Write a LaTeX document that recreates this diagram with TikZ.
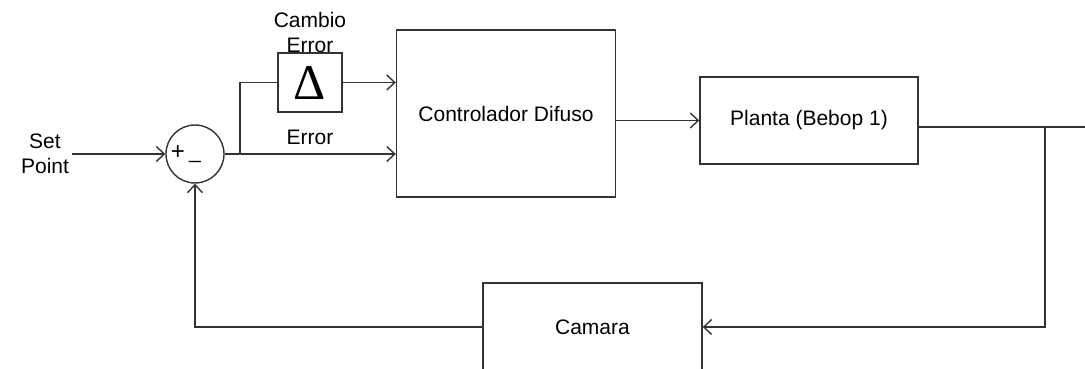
\documentclass[tikz,border=0pt]{standalone}
\usepackage{fontspec}
\setmainfont{Liberation Sans}
\newfontfamily\deltafont{Liberation Serif}
\usepackage{xcolor}
\definecolor{ln}{HTML}{333333}
\usetikzlibrary{arrows.meta,positioning,calc}
\tikzset{
  >={Straight Barb[length=8pt,width=15pt]},
  blk/.style={draw=ln,line width=1.4pt,inner sep=0pt,align=center,fill=white},
  sumc/.style={circle,draw=ln,line width=1.4pt,minimum size=58pt,inner sep=0pt},
  lab/.style={align=center},
  wire/.style={draw=ln,line width=1.4pt},
  arr/.style={->,draw=ln,line width=1.4pt},
}

\begin{document}
\begin{tikzpicture}[x=1pt,y=-1pt,every node/.style={font=\fontsize{21}{25}\selectfont}]
\useasboundingbox (0,0) rectangle (1085,369);
% Input and summing junction
\node[lab] (setp) at (45,154) {Set\\Point};
\node[sumc] (sum) at (195,154) {};
\node[font=\fontsize{24}{24}\selectfont] (plus) at (178,153) {+};
\node (minus) at (195,161) {\_};
% Blocks
\node[blk,minimum width=64,minimum height=59,font=\deltafont\fontsize{50}{50}\selectfont] (delta) at (310,82.5) {Δ};
\node[lab] (cambio) at (310,32) {Cambio\\Error};
\node[lab] (errlab) at (310,137) {Error};
\node[blk,minimum width=219,minimum height=167] (ctrl) at (506,113.5) {Controlador Difuso};
\node[blk,minimum width=218,minimum height=87] (planta) at (809,120.5) {Planta (Bebop 1)};
\node[blk,minimum width=219,minimum height=88] (camara) at (592.5,327) {Camara};
% Helper points
\coordinate (br) at (240,154);
\coordinate (tap) at (1045,127);
\coordinate (out) at (1090,127);
% Forward path
\draw[arr] (setp.east |- sum.west) -- (sum.west);
\draw[arr] (sum.east) -- (sum.east -| ctrl.west);
\draw[wire] (br) |- (delta.west);
\draw[arr] (delta.east) -- (delta.east -| ctrl.west);
\draw[arr] (ctrl.east |- planta.west) -- (planta.west);
\draw[wire] (planta.east |- tap) -- (out);
% Feedback path
\draw[arr] (tap) |- (camara.east);
\draw[arr] (camara.west) -| (sum.south);
\end{tikzpicture}
\end{document}
